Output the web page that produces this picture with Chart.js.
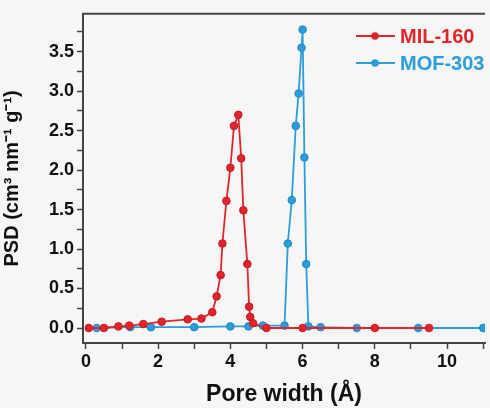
<!DOCTYPE html>
<html>
<head>
<meta charset="utf-8">
<script src="https://cdn.jsdelivr.net/npm/chart.js@4"></script>
<style>
  html, body { margin: 0; padding: 0; background: #f6f6f6; }
  #wrap { width: 490px; height: 408px; }
</style>
</head>
<body>
<div id="wrap"><canvas id="psdChart" width="490" height="408"></canvas></div>
<script>
// MIL-160 (red)
const milX = [0.08, 0.5, 0.9, 1.2, 1.59, 2.1, 2.82, 3.2, 3.5, 3.62, 3.73, 3.78, 3.89, 4.0, 4.1, 4.22, 4.3, 4.36, 4.47, 4.52, 4.55, 4.63, 5.0, 6.0, 8.0, 9.5];
const milY = [0.0, 0.0, 0.02, 0.03, 0.05, 0.08, 0.11, 0.12, 0.2, 0.4, 0.67, 1.07, 1.61, 2.03, 2.56, 2.7, 2.15, 1.49, 0.81, 0.27, 0.14, 0.06, 0.0, 0.0, 0.0, 0.0];

// MOF-303 (blue)
const mofX = [0.3, 1.23, 1.8, 3.0, 4.0, 4.5, 4.9, 5.5, 5.59, 5.7, 5.81, 5.89, 5.97, 6.0, 6.05, 6.1, 6.16, 6.5, 7.5, 9.2, 11.0];
const mofY = [0.0, 0.01, 0.01, 0.01, 0.02, 0.02, 0.03, 0.03, 1.07, 1.62, 2.56, 2.97, 3.55, 3.78, 2.16, 0.81, 0.02, 0.01, 0.0, 0.0, 0.0];

const seriesNames = ['MIL-160', 'MOF-303'];
const xTickLabels = [0, 2, 4, 6, 8, 10];
const yTickLabels = [0.0, 0.5, 1.0, 1.5, 2.0, 2.5, 3.0, 3.5];

const RED = '#e3252b';
const BLUE = '#2a9ddd';
const AXIS = '#444';

const toPts = (xs, ys) => xs.map((x, i) => ({ x: x, y: ys[i] }));

// top frame line + legend drawn inside chart area
const framePlugin = {
    id: 'frame',
    afterDraw(chart) {
        const { ctx, chartArea } = chart;
        ctx.save();
        ctx.strokeStyle = AXIS;
        ctx.lineWidth = 2;
        ctx.beginPath();
        ctx.moveTo(chartArea.left - 1, chartArea.top);
        ctx.lineTo(chartArea.right, chartArea.top);
        ctx.stroke();

        // legend
        const items = [
            { name: seriesNames[0], color: RED, y: 36 },
            { name: seriesNames[1], color: BLUE, y: 63 }
        ];
        items.forEach(it => {
            ctx.strokeStyle = it.color;
            ctx.lineWidth = 1.8;
            ctx.beginPath();
            ctx.moveTo(356, it.y);
            ctx.lineTo(395, it.y);
            ctx.stroke();
            ctx.fillStyle = it.color;
            ctx.beginPath();
            ctx.arc(375, it.y, 3.8, 0, Math.PI * 2);
            ctx.fill();
            ctx.font = 'bold 20px "Liberation Sans", Arial, sans-serif';
            ctx.textBaseline = 'middle';
            ctx.fillText(it.name, 400, it.y + 1);
        });
        ctx.restore();
    }
};

const tickFont = { family: '"Liberation Sans", Arial, sans-serif', size: 18, weight: 'bold' };
const titleFont = { family: '"Liberation Sans", Arial, sans-serif', size: 23, weight: 'bold' };

new Chart(document.getElementById('psdChart'), {
    type: 'line',
    data: {
        datasets: [
            {
                label: seriesNames[0],
                data: toPts(milX, milY),
                borderColor: RED,
                backgroundColor: RED,
                pointBackgroundColor: RED,
                pointBorderColor: '#c41a20',
                pointBorderWidth: 1,
                pointRadius: 3.8,
                borderWidth: 1.8,
                tension: 0
            },
            {
                label: seriesNames[1],
                data: toPts(mofX, mofY),
                borderColor: BLUE,
                backgroundColor: BLUE,
                pointBackgroundColor: BLUE,
                pointBorderColor: '#1d88c6',
                pointBorderWidth: 1,
                pointRadius: 3.8,
                borderWidth: 1.8,
                tension: 0
            }
        ]
    },
    options: {
        responsive: false,
        animation: false,
        layout: { padding: { top: 9, right: 0, left: 0, bottom: 0 } },
        plugins: {
            legend: { display: false },
            tooltip: { enabled: false }
        },
        scales: {
            x: {
                type: 'linear',
                min: -0.08,
                max: 11.05,
                afterFit(s) { s.height = 65; },
                border: { display: true, color: AXIS, width: 2 },
                grid: { drawOnChartArea: false, color: AXIS, tickLength: 6, tickWidth: 1.5 },
                afterBuildTicks(s) {
                    s.ticks = [];
                    for (let v = 0; v <= 11; v++) s.ticks.push({ value: v });
                },
                ticks: {
                    color: '#111',
                    font: tickFont,
                    padding: 2,
                    maxRotation: 0,
                    autoSkip: false,
                    callback: v => xTickLabels.includes(v) ? String(v) : ''
                },
                title: {
                    display: true,
                    text: 'Pore width (Å)',
                    color: '#111',
                    font: titleFont,
                    padding: { top: 2, bottom: 0 }
                }
            },
            y: {
                type: 'linear',
                min: -0.19,
                max: 3.98,
                afterFit(s) { s.width = 83; },
                border: { display: true, color: AXIS, width: 2 },
                grid: { drawOnChartArea: false, color: AXIS, tickLength: 6, tickWidth: 1.5 },
                afterBuildTicks(s) {
                    s.ticks = [];
                    for (let i = 0; i <= 15; i++) s.ticks.push({ value: i * 0.25 });
                },
                ticks: {
                    color: '#111',
                    font: tickFont,
                    padding: 3,
                    autoSkip: false,
                    callback: v => {
                        const hit = yTickLabels.find(t => Math.abs(t - v) < 1e-6);
                        return hit !== undefined ? hit.toFixed(1) : '';
                    }
                },
                title: {
                    display: true,
                    text: 'PSD (cm³ nm⁻¹ g⁻¹)',
                    color: '#111',
                    font: { family: '"Liberation Sans", Arial, sans-serif', size: 20, weight: 'bold' },
                    padding: { top: 0, bottom: 2 }
                }
            }
        }
    },
    plugins: [framePlugin]
});
</script>
</body>
</html>
